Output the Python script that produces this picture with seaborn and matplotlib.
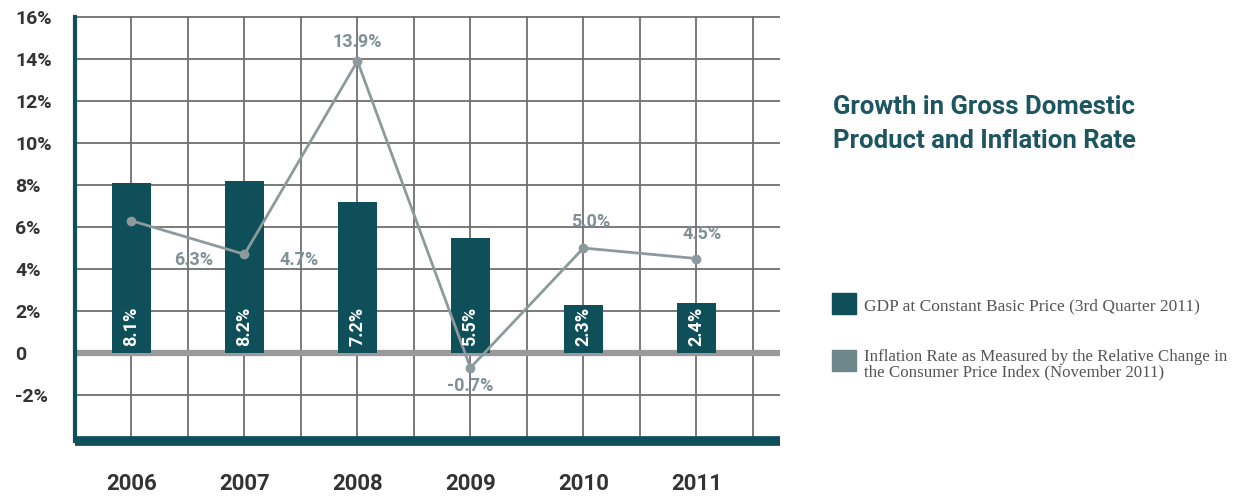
import matplotlib
matplotlib.use("Agg")
import matplotlib.pyplot as plt
from matplotlib.patches import Rectangle
import seaborn as sns
import pandas as pd

# Data
years = ["2006", "2007", "2008", "2009", "2010", "2011"]
gdp_growth = [8.1, 8.2, 7.2, 5.5, 2.3, 2.4]
inflation = [6.3, 4.7, 13.9, -0.7, 5.0, 4.5]
y_ticks = [-2, 0, 2, 4, 6, 8, 10, 12, 14, 16]
y_tick_labels = ["-2%", "0", "2%", "4%", "6%", "8%", "10%", "12%", "14%", "16%"]

df = pd.DataFrame({"year": years, "gdp": gdp_growth, "inflation": inflation})

TEAL = "#0e4f59"
LINE_GREY = "#8d9a9d"
LABEL_GREY = "#7f9195"
GRID = "#6f6f6f"
TEXT_DARK = "#333333"

sns.set_theme(style="white")
plt.rcParams["font.family"] = ["Roboto", "DejaVu Sans"]

W, H = 1242, 496
fig = plt.figure(figsize=(W / 100, H / 100), dpi=100)
fig.patch.set_facecolor("white")

left_px, right_px, top_px, bottom_px = 75, 780, 16, 441
ax = fig.add_axes([left_px / W, 1 - bottom_px / H,
                   (right_px - left_px) / W, (bottom_px - top_px) / H])

# GDP bars
sns.barplot(data=df, x="year", y="gdp", color=TEAL, width=0.35,
            saturation=1, ax=ax, zorder=3, edgecolor="none")

# Inflation line
sns.pointplot(data=df, x="year", y="inflation", color=LINE_GREY,
              markers="o", markersize=5.5, linewidth=2, ax=ax, zorder=5)

ax.set_xlim(-0.5, 5.74)
ax.set_ylim(-4.19, 16.05)

# Grid: horizontal at every 2%, vertical at every half category
ax.set_yticks(y_ticks)
ax.set_yticklabels(y_tick_labels)
ax.set_xticks(range(len(years)))
ax.set_xticks([i + 0.5 for i in range(len(years))], minor=True)
ax.grid(True, which="both", axis="x", color=GRID, linewidth=1.3, zorder=0)
ax.grid(True, which="major", axis="y", color=GRID, linewidth=1.3, zorder=0)
ax.set_axisbelow(True)
ax.axhline(0, color="#9a9a9a", linewidth=4.5, zorder=2)

for s in ("top", "right"):
    ax.spines[s].set_visible(False)
ax.spines["left"].set_color(TEAL)
ax.spines["left"].set_linewidth(3)
ax.spines["bottom"].set_color(TEAL)
ax.spines["bottom"].set_linewidth(7)
ax.spines["bottom"].set_capstyle("butt")
ax.spines["left"].set_bounds(-4.19, 16)

ax.set_xlabel("")
ax.set_ylabel("")
ax.tick_params(axis="both", which="both", length=0)
ax.tick_params(axis="x", pad=23, labelsize=16, labelcolor=TEXT_DARK)
ax.tick_params(axis="y", pad=43, labelsize=14, labelcolor=TEXT_DARK)
for lab in ax.get_xticklabels():
    lab.set_fontweight("bold")
for lab in ax.get_yticklabels():
    lab.set_fontweight("bold")
    lab.set_horizontalalignment("left")

# Values inside the bars
for i, v in enumerate(gdp_growth):
    ax.text(i, 0.35, f"{v:.1f}%", rotation=90, ha="center", va="bottom",
            color="white", fontsize=13, fontweight="bold", zorder=6)

# Inflation value labels (offsets in points)
label_offsets = [(45, -28), (39, -4), (0, 14), (0, -13), (5, 19), (4, 18)]
for i, (v, off) in enumerate(zip(inflation, label_offsets)):
    ax.annotate(f"{v:.1f}%", (i, v), xytext=off, textcoords="offset points",
                ha="center", va="center", color=LABEL_GREY, fontsize=13,
                fontweight="bold", zorder=7)

# Title
fig.text(833 / W, 1 - 95 / H, "Growth in Gross Domestic\nProduct and Inflation Rate",
         ha="left", va="top", color="#1d5660", fontsize=18.5, fontweight="bold",
         linespacing=1.5)

# Legend
fig.patches.append(Rectangle((832 / W, 1 - 314 / H), 24 / W, 21 / H,
                             transform=fig.transFigure, color=TEAL))
fig.patches.append(Rectangle((832 / W, 1 - 371 / H), 24 / W, 21 / H,
                             transform=fig.transFigure, color="#6e878b"))
serif = ["Liberation Serif", "DejaVu Serif"]
fig.text(864 / W, 1 - 306 / H, "GDP at Constant Basic Price (3rd Quarter 2011)",
         ha="left", va="center", fontsize=12.5, color="#555555", family=serif)
fig.text(864 / W, 1 - 365 / H,
         "Inflation Rate as Measured by the Relative Change in\n"
         "the Consumer Price Index (November 2011)",
         ha="left", va="center", fontsize=12.2, color="#555555", family=serif,
         linespacing=0.95)

fig.savefig("out.png", dpi=100, facecolor="white")
